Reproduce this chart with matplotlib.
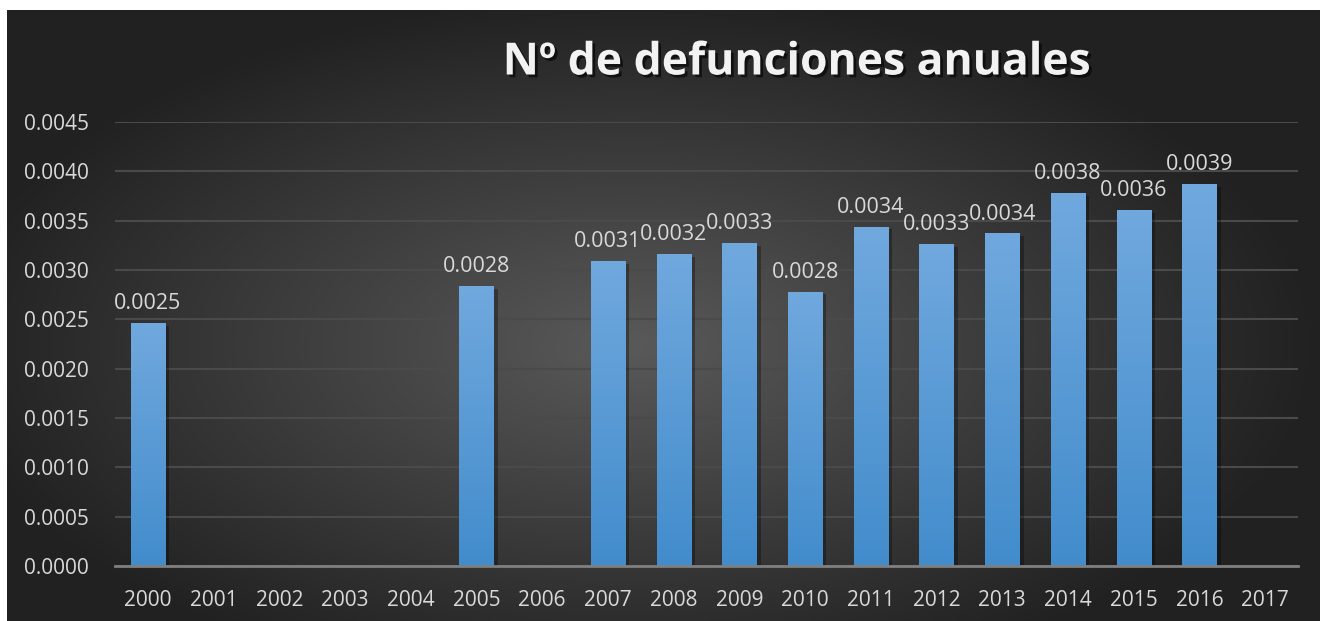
import numpy as np
import matplotlib.pyplot as plt
import matplotlib.patheffects as pe

# Data
years = ["2000", "2001", "2002", "2003", "2004", "2005", "2006", "2007", "2008",
         "2009", "2010", "2011", "2012", "2013", "2014", "2015", "2016", "2017"]
deaths = [0.00246, np.nan, np.nan, np.nan, np.nan, 0.00284, np.nan, 0.00309, 0.00316,
          0.00327, 0.00278, 0.00344, 0.00326, 0.00337, 0.00378, 0.00361, 0.00387, np.nan]
y_ticks = [0.0, 0.0005, 0.0010, 0.0015, 0.0020, 0.0025, 0.0030, 0.0035, 0.0040, 0.0045]

W, H = 1320, 621
fig = plt.figure(figsize=(W / 100, H / 100), dpi=100, facecolor="white")

# dark radial background
bg = fig.add_axes([7 / W, 0, (W - 7) / W, (H - 10) / H])
gx, gy = np.meshgrid(np.linspace(-1, 1, 600), np.linspace(-1, 1, 300))
r = np.sqrt(((gx + 0.05) / 1.0) ** 2 + ((gy - 0.1) / 1.1) ** 2)
shade = np.clip(0.35 - 0.21 * r, 0.13, 0.35)
bg.imshow(np.dstack([shade, shade, shade]), aspect="auto", extent=[0, 1, 0, 1])
bg.set_axis_off()

ax = fig.add_axes([115 / W, 55 / H, 1183 / W, 444 / H])
ax.set_facecolor("none")
x = np.arange(len(years))
vals = np.nan_to_num(np.array(deaths))
bars = ax.bar(x, vals, width=0.52, color="#5b9bd5", zorder=3,
              path_effects=[pe.SimplePatchShadow(offset=(3, -2), alpha=0.3, shadow_rgbFace="black"),
                            pe.Normal()])

# vertical gradient on every bar
grad = np.linspace(0, 1, 100).reshape(-1, 1)
top_c = np.array([0.44, 0.66, 0.87])
bot_c = np.array([0.26, 0.55, 0.80])
img = grad[..., None] * top_c + (1 - grad[..., None]) * bot_c
for b, v in zip(bars, deaths):
    if np.isnan(v):
        b.set_visible(False)
        continue
    im = ax.imshow(img, origin="lower", aspect="auto", zorder=4,
                   extent=[b.get_x(), b.get_x() + b.get_width(), 0, b.get_height()])
    im.set_clip_path(b)
    ax.text(b.get_x() + b.get_width() / 2, v + 0.00009, f"{v:.4f}", ha="center", va="bottom",
            color="#d9d9d9", fontsize=15.5, family="Open Sans", zorder=5)

ax.set_xlim(-0.5, len(years) - 0.5)
ax.set_ylim(0, 0.0045)
ax.set_yticks(y_ticks)
ax.set_yticklabels([f"{t:.4f}" for t in y_ticks])
ax.set_xticks(x)
ax.set_xticklabels(years)
ax.grid(axis="y", color="#4a4a4a", linewidth=1.5, zorder=0)
ax.tick_params(length=0, colors="#d9d9d9", labelsize=15, pad=17)
for lab in ax.get_xticklabels() + ax.get_yticklabels():
    lab.set_family("Open Sans")
ax.tick_params(axis="y", pad=19)
for s in ["top", "right", "left"]:
    ax.spines[s].set_visible(False)
ax.spines["bottom"].set_color("#7f7f7f")
ax.spines["bottom"].set_linewidth(2)
ax.spines["bottom"].set_zorder(6)

fig.text(797 / W, 1 - 63 / H, "Nº de defunciones anuales", ha="center", va="center",
         color="#f2f2f2", fontsize=32, fontweight="bold", family="Open Sans",
         path_effects=[pe.withSimplePatchShadow(offset=(2, -2), alpha=0.6, shadow_rgbFace="black")])

fig.savefig("out.png", dpi=100, facecolor="white")
